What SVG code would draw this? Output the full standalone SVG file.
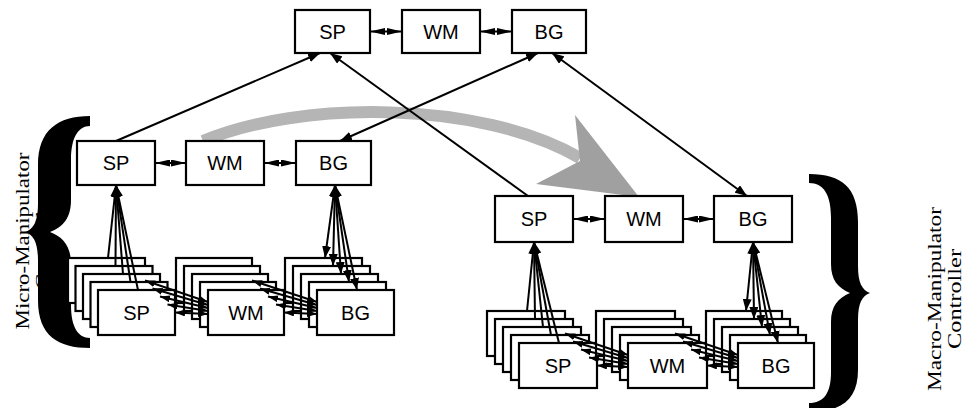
<svg xmlns="http://www.w3.org/2000/svg" width="968" height="408" viewBox="0 0 968 408">
<style>
.box{fill:#fff;stroke:#000;stroke-width:2.2}
.lbl{font-family:"Liberation Sans",Arial,sans-serif;font-size:20px;text-anchor:middle;fill:#000}
.c{stroke:#000;stroke-width:2;fill:none}
.side{font-family:"Liberation Serif","Times New Roman",serif;font-size:19px;text-anchor:middle;fill:#000}
.brace{fill:#000}
</style>
<defs>
<marker id="ah" viewBox="0 0 12 9" refX="12" refY="4.5" markerWidth="12" markerHeight="9" markerUnits="userSpaceOnUse" orient="auto-start-reverse"><path d="M0,0 L12,4.5 L0,9 z" fill="#000"/></marker>
<marker id="dh" viewBox="0 0 15 7" refX="15" refY="3.5" markerWidth="15" markerHeight="7" markerUnits="userSpaceOnUse" orient="auto-start-reverse"><path d="M0,0 L15,3.5 L0,7 z" fill="#000"/></marker>
<marker id="sh" viewBox="0 0 10 7" refX="10" refY="3.5" markerWidth="10" markerHeight="7" markerUnits="userSpaceOnUse" orient="auto-start-reverse"><path d="M0,0 L10,3.5 L0,7 z" fill="#000"/></marker>
</defs>

<g id="labels">
<text class="side" transform="translate(29,241) rotate(-90)" textLength="177" lengthAdjust="spacingAndGlyphs">Micro-Manipulator</text>
<text class="side" transform="translate(49,241) rotate(-90)" textLength="97" lengthAdjust="spacingAndGlyphs">Controller</text>
<text class="side" transform="translate(941,299) rotate(-90)" textLength="184" lengthAdjust="spacingAndGlyphs">Macro-Manipulator</text>
<text class="side" transform="translate(961,299) rotate(-90)" textLength="100" lengthAdjust="spacingAndGlyphs">Controller</text>
</g>

<g id="braces">
<path class="brace" d="M90,116 C58,116 38,130 38,165 L38,203 C38,221 34,229 25,232 C34,235 38,243 38,261 L38,300 C38,336 58,348 90,348 L90,338 C78,338 71,327 71,305 L71,264 C71,246 63,237 50,232 C63,227 71,218 71,200 L71,160 C71,138 78,126 90,126 Z"/>
<path class="brace" d="M809,174 C842,174 858,188 858,222 L858,266 C858,283 862,290 870,293 C862,296 858,303 858,320 L858,370 C858,399 842,412 809,412 L809,403 C824,403 831,393 831,372 L831,322 C831,306 838,298 850,293 C838,288 831,280 831,264 L831,218 C831,195 824,183 809,183 Z"/>
</g>

<g id="transfer-arrow">
<path d="M203,141 C300,100 480,100 580,158" fill="none" stroke="#b5b5b5" stroke-width="12"/>
<polygon points="575,115 639,197 536,184 580,161" fill="#a0a0a0"/>
</g>

<g id="top-SP"><rect class="box" x="295" y="10" width="75" height="43"/><text class="lbl" x="332.5" y="38.6">SP</text></g>
<g id="top-WM"><rect class="box" x="402" y="10" width="78" height="43"/><text class="lbl" x="441" y="38.6">WM</text></g>
<g id="top-BG"><rect class="box" x="512" y="10" width="74" height="43"/><text class="lbl" x="549" y="38.6">BG</text></g>

<g id="micro-SP"><rect class="box" x="77" y="141" width="78" height="44"/><text class="lbl" x="116" y="170.2">SP</text></g>
<g id="micro-WM"><rect class="box" x="186" y="141" width="78" height="44"/><text class="lbl" x="225" y="170.2">WM</text></g>
<g id="micro-BG"><rect class="box" x="296" y="141" width="75" height="44"/><text class="lbl" x="333.5" y="170.2">BG</text></g>

<g id="macro-SP"><rect class="box" x="495" y="196" width="78" height="46"/><text class="lbl" x="534" y="226.2">SP</text></g>
<g id="macro-WM"><rect class="box" x="605" y="196" width="78" height="46"/><text class="lbl" x="644" y="226.2">WM</text></g>
<g id="macro-BG"><rect class="box" x="714" y="196" width="78" height="46"/><text class="lbl" x="753" y="226.2">BG</text></g>

<g id="micro-SP-stack">
<rect class="box" x="68" y="258" width="77" height="45"/><rect class="box" x="75.5" y="266" width="77" height="45"/><rect class="box" x="83" y="274" width="77" height="45"/><rect class="box" x="90.5" y="282" width="77" height="45"/><rect class="box" x="98" y="290" width="77" height="45"/>
<text class="lbl" x="136.5" y="319.7">SP</text></g>
<g id="micro-WM-stack">
<rect class="box" x="176" y="258" width="76" height="45"/><rect class="box" x="184" y="266" width="76" height="45"/><rect class="box" x="192" y="274" width="76" height="45"/><rect class="box" x="200" y="282" width="76" height="45"/><rect class="box" x="208" y="290" width="76" height="45"/>
<text class="lbl" x="246" y="319.7">WM</text></g>
<g id="micro-BG-stack">
<rect class="box" x="285" y="258" width="77" height="45"/><rect class="box" x="293" y="266" width="77" height="45"/><rect class="box" x="301" y="274" width="77" height="45"/><rect class="box" x="309" y="282" width="77" height="45"/><rect class="box" x="317" y="290" width="77" height="45"/>
<text class="lbl" x="355.5" y="319.7">BG</text></g>

<g id="macro-SP-stack">
<rect class="box" x="487" y="311" width="78" height="45"/><rect class="box" x="495" y="319" width="78" height="45"/><rect class="box" x="503" y="327" width="78" height="45"/><rect class="box" x="511" y="335" width="78" height="45"/><rect class="box" x="519" y="343" width="78" height="45"/>
<text class="lbl" x="558" y="372.7">SP</text></g>
<g id="macro-WM-stack">
<rect class="box" x="596" y="311" width="79" height="45"/><rect class="box" x="604" y="319" width="79" height="45"/><rect class="box" x="612" y="327" width="79" height="45"/><rect class="box" x="620" y="335" width="79" height="45"/><rect class="box" x="628" y="343" width="79" height="45"/>
<text class="lbl" x="667.5" y="372.7">WM</text></g>
<g id="macro-BG-stack">
<rect class="box" x="706" y="311" width="76" height="45"/><rect class="box" x="714" y="319" width="76" height="45"/><rect class="box" x="722" y="327" width="76" height="45"/><rect class="box" x="730" y="335" width="76" height="45"/><rect class="box" x="738" y="343" width="76" height="45"/>
<text class="lbl" x="776" y="372.7">BG</text></g>

<g id="connectors">
<line class="c" x1="370" y1="31.5" x2="402" y2="31.5" marker-start="url(#dh)" marker-end="url(#dh)"/>
<line class="c" x1="480" y1="31.5" x2="512" y2="31.5" marker-start="url(#dh)" marker-end="url(#dh)"/>
<line class="c" x1="155" y1="163" x2="186" y2="163" marker-start="url(#dh)" marker-end="url(#dh)"/>
<line class="c" x1="264" y1="163" x2="296" y2="163" marker-start="url(#dh)" marker-end="url(#dh)"/>
<line class="c" x1="573" y1="219" x2="605" y2="219" marker-start="url(#dh)" marker-end="url(#dh)"/>
<line class="c" x1="683" y1="219" x2="714" y2="219" marker-start="url(#dh)" marker-end="url(#dh)"/>

<line class="c" x1="116" y1="141" x2="320" y2="53" marker-end="url(#ah)"/>
<line class="c" x1="528" y1="196" x2="330" y2="53" marker-end="url(#ah)"/>
<line class="c" x1="340" y1="141" x2="538" y2="53" marker-start="url(#ah)" marker-end="url(#ah)"/>
<line class="c" x1="747" y1="196" x2="552" y2="53" marker-start="url(#ah)" marker-end="url(#ah)"/>

<line class="c" x1="108" y1="258" x2="116" y2="185" marker-end="url(#ah)"/>
<line class="c" x1="115.5" y1="266" x2="116" y2="185" marker-end="url(#ah)"/>
<line class="c" x1="123" y1="274" x2="116" y2="185" marker-end="url(#ah)"/>
<line class="c" x1="130.5" y1="282" x2="116" y2="185" marker-end="url(#ah)"/>
<line class="c" x1="138" y1="290" x2="116" y2="185" marker-end="url(#ah)"/>

<line class="c" x1="335" y1="185" x2="325" y2="258" marker-start="url(#ah)" marker-end="url(#ah)"/>
<line class="c" x1="335" y1="185" x2="333" y2="266" marker-start="url(#ah)" marker-end="url(#ah)"/>
<line class="c" x1="335" y1="185" x2="341" y2="274" marker-start="url(#ah)" marker-end="url(#ah)"/>
<line class="c" x1="335" y1="185" x2="349" y2="282" marker-start="url(#ah)" marker-end="url(#ah)"/>
<line class="c" x1="335" y1="185" x2="357" y2="290" marker-start="url(#ah)" marker-end="url(#ah)"/>

<line class="c" x1="527" y1="311" x2="534" y2="242" marker-end="url(#ah)"/>
<line class="c" x1="535" y1="319" x2="534" y2="242" marker-end="url(#ah)"/>
<line class="c" x1="543" y1="327" x2="534" y2="242" marker-end="url(#ah)"/>
<line class="c" x1="551" y1="335" x2="534" y2="242" marker-end="url(#ah)"/>
<line class="c" x1="559" y1="343" x2="534" y2="242" marker-end="url(#ah)"/>

<line class="c" x1="753" y1="242" x2="746" y2="311" marker-start="url(#ah)" marker-end="url(#ah)"/>
<line class="c" x1="753" y1="242" x2="754" y2="319" marker-start="url(#ah)" marker-end="url(#ah)"/>
<line class="c" x1="753" y1="242" x2="762" y2="327" marker-start="url(#ah)" marker-end="url(#ah)"/>
<line class="c" x1="753" y1="242" x2="770" y2="335" marker-start="url(#ah)" marker-end="url(#ah)"/>
<line class="c" x1="753" y1="242" x2="778" y2="343" marker-start="url(#ah)" marker-end="url(#ah)"/>

<line class="c" x1="145" y1="280.5" x2="208" y2="302" marker-start="url(#sh)" marker-end="url(#sh)"/>
<line class="c" x1="152.5" y1="288.5" x2="208" y2="305" marker-start="url(#sh)" marker-end="url(#sh)"/>
<line class="c" x1="160" y1="296.5" x2="208" y2="308" marker-start="url(#sh)" marker-end="url(#sh)"/>
<line class="c" x1="167.5" y1="304.5" x2="208" y2="311" marker-start="url(#sh)" marker-end="url(#sh)"/>
<line class="c" x1="175" y1="312.5" x2="208" y2="314" marker-start="url(#sh)" marker-end="url(#sh)"/>

<line class="c" x1="252" y1="280.5" x2="317" y2="302" marker-start="url(#sh)" marker-end="url(#sh)"/>
<line class="c" x1="260" y1="288.5" x2="317" y2="305" marker-start="url(#sh)" marker-end="url(#sh)"/>
<line class="c" x1="268" y1="296.5" x2="317" y2="308" marker-start="url(#sh)" marker-end="url(#sh)"/>
<line class="c" x1="276" y1="304.5" x2="317" y2="311" marker-start="url(#sh)" marker-end="url(#sh)"/>
<line class="c" x1="284" y1="312.5" x2="317" y2="314" marker-start="url(#sh)" marker-end="url(#sh)"/>

<line class="c" x1="565" y1="333.5" x2="628" y2="355" marker-start="url(#sh)" marker-end="url(#sh)"/>
<line class="c" x1="573" y1="341.5" x2="628" y2="358" marker-start="url(#sh)" marker-end="url(#sh)"/>
<line class="c" x1="581" y1="349.5" x2="628" y2="361" marker-start="url(#sh)" marker-end="url(#sh)"/>
<line class="c" x1="589" y1="357.5" x2="628" y2="364" marker-start="url(#sh)" marker-end="url(#sh)"/>
<line class="c" x1="597" y1="365.5" x2="628" y2="367" marker-start="url(#sh)" marker-end="url(#sh)"/>

<line class="c" x1="675" y1="333.5" x2="738" y2="355" marker-start="url(#sh)" marker-end="url(#sh)"/>
<line class="c" x1="683" y1="341.5" x2="738" y2="358" marker-start="url(#sh)" marker-end="url(#sh)"/>
<line class="c" x1="691" y1="349.5" x2="738" y2="361" marker-start="url(#sh)" marker-end="url(#sh)"/>
<line class="c" x1="699" y1="357.5" x2="738" y2="364" marker-start="url(#sh)" marker-end="url(#sh)"/>
<line class="c" x1="707" y1="365.5" x2="738" y2="367" marker-start="url(#sh)" marker-end="url(#sh)"/>
</g>
</svg>
